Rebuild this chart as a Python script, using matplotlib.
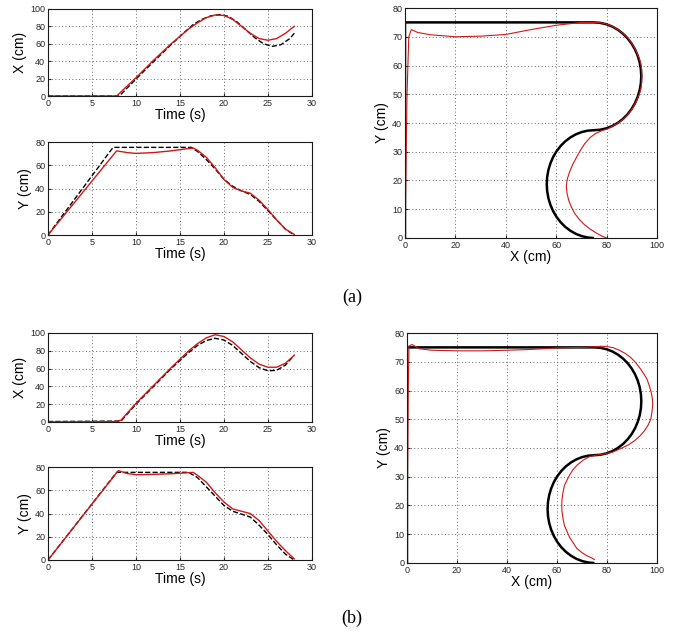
import matplotlib
matplotlib.use('Agg')
import matplotlib.pyplot as plt

plt.rcParams['font.family'] = ['Liberation Sans', 'DejaVu Sans']

# ---- reference path (black), same in (a) and (b)
ref_x = [0, 0, 10, 20, 30, 40, 50, 60, 70, 75,
         77.45, 79.85, 82.18, 84.38, 86.41, 88.26, 89.88, 91.24, 92.32, 93.11, 93.59, 93.75,
         93.59, 93.11, 92.32, 91.24, 89.88, 88.26, 86.41, 84.38, 82.18, 79.85, 77.45, 75,
         72.55, 70.15, 67.82, 65.63, 63.59, 61.74, 60.12, 58.76, 57.68, 56.89, 56.41, 56.25,
         56.41, 56.89, 57.68, 58.76, 60.12, 61.74, 63.59, 65.63, 67.82, 70.15, 72.55, 74.5]
ref_y = [0, 75, 75, 75, 75, 75, 75, 75, 75, 75,
         74.84, 74.36, 73.57, 72.49, 71.13, 69.51, 67.66, 65.63, 63.43, 61.10, 58.70, 56.25,
         53.80, 51.40, 49.07, 46.88, 44.84, 42.99, 41.37, 40.01, 38.93, 38.14, 37.66, 37.5,
         37.34, 36.86, 36.07, 34.99, 33.63, 32.01, 30.16, 28.13, 25.93, 23.60, 21.20, 18.75,
         16.30, 13.90, 11.57, 9.38, 7.34, 5.49, 3.87, 2.51, 1.43, 0.64, 0.16, 0]

# ---- (a) measured path (red)
a_xy_x = [0, 0.3, 0.8, 1.5, 2.5, 5, 10, 20, 30, 40, 50, 60, 70, 75,
          77.5, 80, 82.3, 84.5, 86.6, 88.5, 90.1, 91.5, 92.6, 93.5, 93.9, 94,
          93.9, 93.5, 92.6, 91.5, 90.1, 88.5, 86.6, 84.5, 82.5, 80.5,
          78, 75.5, 73.3, 71.3, 69.6, 68, 66.5, 65.3, 64.4, 64,
          64.3, 65, 66, 67.3, 69, 71, 73.3, 75.8, 78, 80]
a_xy_y = [0, 20, 50, 70, 72.5, 71.5, 70.7, 70, 70.2, 70.8, 72.5, 74, 75, 75,
          74.9, 74.4, 73.6, 72.5, 71.1, 69.5, 67.6, 65.5, 63.3, 61, 58.7, 56.5,
          54, 51.5, 49.2, 47, 44.9, 43, 41.3, 40, 38.9, 38,
          37.3, 36.3, 34.8, 32.8, 30.5, 28, 25.5, 23, 20.5, 18,
          15.5, 13, 10.8, 8.6, 6.6, 4.8, 3.2, 1.8, 0.7, 0]

# ---- (b) measured path (red)
b_xy_x = [0, 0.2, 0.5, 0.8, 2, 5, 10, 20, 30, 40, 50, 60, 70, 75,
          77.5, 80, 82.5, 85, 87.3, 89.5, 91.4, 93, 94.6, 96, 97, 97.8, 98.2, 98.3,
          98, 97.5, 96.5, 95, 93.2, 91, 88.6, 86, 84, 82, 80, 78,
          75.5, 73, 70.5, 68, 66.3, 65, 64, 63, 62.4, 62, 61.9,
          62, 62.4, 63, 64, 65, 66.5, 68, 70, 72, 73.8, 75]
b_xy_y = [0, 30, 60, 75.5, 76, 74.5, 74, 73.8, 73.8, 74, 74.3, 74.8, 75, 75.2,
          75.4, 75.3, 74.9, 74, 72.9, 71.5, 69.8, 68, 66, 64, 61.5, 59, 57, 55,
          52.5, 50, 48, 46, 44.2, 42.5, 41.1, 40, 39.2, 38.5, 38.1, 37.8,
          37.5, 37, 35.8, 34, 32.3, 30.5, 28.8, 27, 24.5, 22, 20,
          18, 15.5, 13, 11, 9, 7, 5, 3.6, 2.5, 1.8, 1.2]

# ---- (a) time histories
a_xt_ref_t = [0, 8.1, 10, 12, 14, 15.6, 16.5, 17.5, 18.5, 19.5, 20.5, 21.5, 22.5, 23.5, 24.5, 25.5, 26.5, 27.5, 28]
a_xt_ref = [0, 0, 19.5, 39.5, 59, 74, 82, 88, 92, 93.5, 91.5, 85, 76, 67, 60, 57, 59, 66, 72]
a_xt_t = [0, 7.8, 10, 12, 14, 16, 17, 18, 19, 20, 21, 22, 23, 24, 25, 26, 27, 28]
a_xt = [0, 0, 21, 41, 60, 77, 84, 90, 93, 92.5, 88, 80, 72, 66, 64, 66, 72, 80]

a_yt_ref_t = [0, 7.4, 16.3, 17, 18, 19, 20, 21, 22, 23, 24, 25, 26, 27, 28]
a_yt_ref = [0, 75.5, 75.5, 72, 65, 57, 48, 42, 38, 35, 29, 21, 13, 5, 0]
a_yt_t = [0, 7.8, 9, 10, 12, 14, 15.5, 16.5, 17, 18, 19, 20, 21, 22, 23, 24, 25, 26, 27, 28]
a_yt = [0, 72.5, 71, 70.3, 71, 72.5, 74, 75, 73, 67, 58, 48, 41, 38, 36, 30, 22, 13, 5, 0.5]

# ---- (b) time histories
b_xt_ref_t = [0, 8.3, 10, 12, 14, 16, 17, 18, 19, 20, 21, 22, 23, 24, 25, 26, 27, 28]
b_xt_ref = [0.5, 1, 20, 40, 60, 78, 86, 91.5, 94, 92, 86, 77, 68, 61, 57.5, 58, 64, 75]
b_xt_t = [0, 7.5, 8.3, 10, 12, 14, 16, 17, 18, 19, 20, 21, 22, 23, 24, 25, 26, 27, 28]
b_xt = [0, 0.5, 2, 21, 41, 61, 80, 88, 94.5, 98, 96, 90, 81, 72, 65, 61.5, 61.5, 66, 75]

b_yt_ref_t = [0, 7.8, 16, 17, 18, 19, 20, 21, 22, 23, 24, 25, 26, 27, 28]
b_yt_ref = [0, 75.5, 75.5, 71, 63, 55, 47, 42, 39.5, 37, 30, 22, 13, 5, 0]
b_yt_t = [0, 8, 9, 10, 12, 14, 15.5, 16.5, 17, 18, 19, 20, 21, 22, 23, 24, 25, 26, 27, 28]
b_yt = [0, 77, 74.5, 73.5, 73.8, 74.3, 75, 75.5, 73, 67, 58, 50, 44, 42, 40, 34, 25, 16, 8, 1]

RED = '#d01818'


def style(ax):
    ax.grid(True, linestyle=(0, (1, 2.5)), color='0.4', linewidth=0.7)
    ax.tick_params(direction='in', length=2, labelsize=6.5, pad=2, colors='0.15')
    for s in ax.spines.values():
        s.set_linewidth(0.8)
        s.set_color('0.1')


def time_plot(ax, tr, r, tm, m, ylim, yticks, ylabel):
    ax.plot(tr, r, 'k--', lw=1.0)
    ax.plot(tm, m, color=RED, lw=1.0)
    ax.set_xlim(0, 30)
    ax.set_ylim(*ylim)
    ax.set_xticks([0, 5, 10, 15, 20, 25, 30])
    ax.set_yticks(yticks)
    ax.set_xlabel('Time (s)', fontsize=10, labelpad=0)
    ax.set_ylabel(ylabel, fontsize=10, labelpad=2)
    style(ax)


def xy_plot(ax, mx, my):
    ax.plot(ref_x, ref_y, 'k-', lw=1.8, solid_joinstyle='round')
    ax.plot(mx, my, color=RED, lw=0.8, solid_joinstyle='round')
    ax.set_xlim(0, 100)
    ax.set_ylim(0, 80)
    ax.set_xticks([0, 20, 40, 60, 80, 100])
    ax.set_yticks(range(0, 81, 10))
    ax.set_xlabel('X (cm)', fontsize=10, labelpad=0)
    ax.set_ylabel('Y (cm)', fontsize=10, labelpad=2)
    style(ax)


fig = plt.figure(figsize=(6.8, 6.36), dpi=100)

ax1 = fig.add_axes([0.0706, 0.849, 0.388, 0.137])
time_plot(ax1, a_xt_ref_t, a_xt_ref, a_xt_t, a_xt, (0, 100), range(0, 101, 20), 'X (cm)')
ax2 = fig.add_axes([0.0706, 0.6305, 0.388, 0.146])
time_plot(ax2, a_yt_ref_t, a_yt_ref, a_yt_t, a_yt, (0, 80), range(0, 81, 20), 'Y (cm)')
ax3 = fig.add_axes([0.5956, 0.6258, 0.3706, 0.3616])
xy_plot(ax3, a_xy_x, a_xy_y)

ax4 = fig.add_axes([0.0706, 0.3365, 0.388, 0.14])
time_plot(ax4, b_xt_ref_t, b_xt_ref, b_xt_t, b_xt, (0, 100), range(0, 101, 20), 'X (cm)')
ax5 = fig.add_axes([0.0706, 0.1195, 0.388, 0.146])
time_plot(ax5, b_yt_ref_t, b_yt_ref, b_yt_t, b_yt, (0, 80), range(0, 81, 20), 'Y (cm)')
ax6 = fig.add_axes([0.5985, 0.1148, 0.3676, 0.3616])
xy_plot(ax6, b_xy_x, b_xy_y)

fig.text(0.518, 0.533, '(a)', family='Liberation Serif', fontsize=13, ha='center', va='center')
fig.text(0.518, 0.028, '(b)', family='Liberation Serif', fontsize=13, ha='center', va='center')

fig.savefig('out.png', dpi=100, facecolor='white')
